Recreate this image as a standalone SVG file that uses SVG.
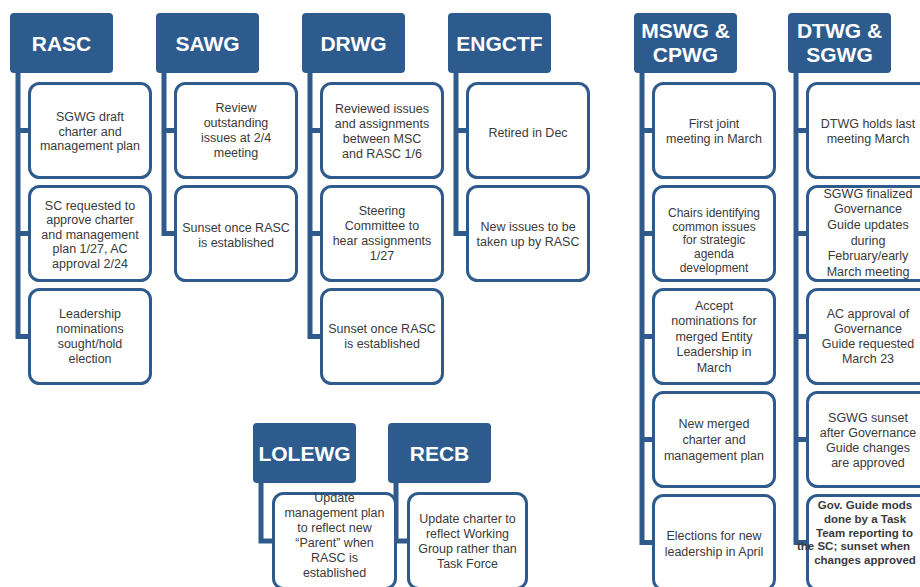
<svg xmlns="http://www.w3.org/2000/svg" width="920" height="587" viewBox="0 0 920 587">
<style>
.hd rect{fill:#2E5B8E;}
.hd text{fill:#fff;font-family:"Liberation Sans",Arial,sans-serif;font-size:21px;font-weight:bold;text-anchor:middle;}
.bx rect{fill:#fff;stroke:#2E5A8C;stroke-width:3;}
.bx text{fill:#3a3a3a;font-family:"Liberation Sans",Arial,sans-serif;font-size:12.5px;text-anchor:middle;}
.bx text.s12{font-size:12px;}
.bx text.sm{font-weight:bold;font-size:11.5px;}
#connectors path{fill:none;stroke:#2E5A8C;stroke-width:5;}
</style>
<rect width="920" height="587" fill="#fff"/>
<g id="connectors">
<path d="M18,73 V336.5 H28 M18,130.5 H28 M18,233.5 H28"/>
<path d="M164,73 V233.5 H174 M164,130.5 H174"/>
<path d="M310,73 V336.5 H320 M310,130.5 H320 M310,233.5 H320"/>
<path d="M456,73 V233.5 H466 M456,130.5 H466"/>
<path d="M642,73 V542.5 H652 M642,130.5 H652 M642,233.5 H652 M642,336.5 H652 M642,439.5 H652"/>
<path d="M796,73 V542.5 H806 M796,130.5 H806 M796,233.5 H806 M796,336.5 H806 M796,439.5 H806"/>
<path d="M261,483 V541 H272"/>
<path d="M396,483 V541 H407"/>
</g>

<g id="h-rasc" class="hd"><rect x="10" y="13" width="103" height="60" rx="4"/><text x="61.5" y="51">RASC</text></g>
<g id="h-sawg" class="hd"><rect x="156" y="13" width="103" height="60" rx="4"/><text x="207.5" y="51">SAWG</text></g>
<g id="h-drwg" class="hd"><rect x="302" y="13" width="103" height="60" rx="4"/><text x="353.5" y="51">DRWG</text></g>
<g id="h-engctf" class="hd"><rect x="448" y="13" width="103" height="60" rx="4"/><text x="499.5" y="51">ENGCTF</text></g>
<g id="h-mswg" class="hd"><rect x="634" y="13" width="103" height="60" rx="4"/><text x="685.5" y="38">MSWG &amp;</text><text x="685.5" y="62">CPWG</text></g>
<g id="h-dtwg" class="hd"><rect x="788" y="13" width="103" height="60" rx="4"/><text x="839.5" y="38">DTWG &amp;</text><text x="839.5" y="62">SGWG</text></g>
<g id="h-lolewg" class="hd"><rect x="253" y="423" width="103" height="60" rx="4"/><text x="304.5" y="461">LOLEWG</text></g>
<g id="h-recb" class="hd"><rect x="388" y="423" width="103" height="60" rx="4"/><text x="439.5" y="461">RECB</text></g>

<!-- RASC -->
<g id="rasc-1" class="bx"><rect x="29.5" y="83.5" width="121" height="94" rx="10"/><text x="90" y="121"><tspan x="90">SGWG draft</tspan><tspan x="90" dy="14.5">charter and</tspan><tspan x="90" dy="14.5">management plan</tspan></text></g>
<g id="rasc-2" class="bx"><rect x="29.5" y="186.5" width="121" height="94" rx="10"/><text x="90" y="209.5"><tspan x="90">SC requested to</tspan><tspan x="90" dy="14.5">approve charter</tspan><tspan x="90" dy="14.5">and management</tspan><tspan x="90" dy="14.5">plan 1/27, AC</tspan><tspan x="90" dy="14.5">approval 2/24</tspan></text></g>
<g id="rasc-3" class="bx"><rect x="29.5" y="289.5" width="121" height="94" rx="10"/><text x="90" y="317.5"><tspan x="90">Leadership</tspan><tspan x="90" dy="15">nominations</tspan><tspan x="90" dy="15">sought/hold</tspan><tspan x="90" dy="15">election</tspan></text></g>

<!-- SAWG -->
<g id="sawg-1" class="bx"><rect x="175.5" y="83.5" width="121" height="94" rx="10"/><text x="236" y="111.5"><tspan x="236">Review</tspan><tspan x="236" dy="15">outstanding</tspan><tspan x="236" dy="15">issues at 2/4</tspan><tspan x="236" dy="15">meeting</tspan></text></g>
<g id="sawg-2" class="bx"><rect x="175.5" y="186.5" width="121" height="94" rx="10"/><text x="236" y="231.5"><tspan x="236">Sunset once RASC</tspan><tspan x="236" dy="15">is established</tspan></text></g>

<!-- DRWG -->
<g id="drwg-1" class="bx"><rect x="321.5" y="83.5" width="121" height="94" rx="10"/><text x="382" y="112.5"><tspan x="382">Reviewed issues</tspan><tspan x="382" dy="15">and assignments</tspan><tspan x="382" dy="15">between MSC</tspan><tspan x="382" dy="15">and RASC 1/6</tspan></text></g>
<g id="drwg-2" class="bx"><rect x="321.5" y="186.5" width="121" height="94" rx="10"/><text x="382" y="214.5"><tspan x="382">Steering</tspan><tspan x="382" dy="15">Committee to</tspan><tspan x="382" dy="15">hear assignments</tspan><tspan x="382" dy="15">1/27</tspan></text></g>
<g id="drwg-3" class="bx"><rect x="321.5" y="289.5" width="121" height="94" rx="10"/><text x="382" y="332.5"><tspan x="382">Sunset once RASC</tspan><tspan x="382" dy="15.5">is established</tspan></text></g>

<!-- ENGCTF -->
<g id="engctf-1" class="bx"><rect x="467.5" y="83.5" width="121" height="94" rx="10"/><text x="528" y="136.5">Retired in Dec</text></g>
<g id="engctf-2" class="bx"><rect x="467.5" y="186.5" width="121" height="94" rx="10"/><text x="528" y="230.5"><tspan x="528">New issues to be</tspan><tspan x="528" dy="15">taken up by RASC</tspan></text></g>

<!-- MSWG & CPWG -->
<g id="mswg-1" class="bx"><rect x="653.5" y="83.5" width="121" height="94" rx="10"/><text x="714" y="127.5"><tspan x="714">First joint</tspan><tspan x="714" dy="15">meeting in March</tspan></text></g>
<g id="mswg-2" class="bx"><rect x="653.5" y="186.5" width="121" height="94" rx="10"/><text class="s12" x="714" y="217"><tspan x="714">Chairs identifying</tspan><tspan x="714" dy="13.7">common issues</tspan><tspan x="714" dy="13.7">for strategic</tspan><tspan x="714" dy="13.7">agenda</tspan><tspan x="714" dy="13.7">development</tspan></text></g>
<g id="mswg-3" class="bx"><rect x="653.5" y="289.5" width="121" height="94" rx="10"/><text x="714" y="309.5"><tspan x="714">Accept</tspan><tspan x="714" dy="15.5">nominations for</tspan><tspan x="714" dy="15.5">merged Entity</tspan><tspan x="714" dy="15.5">Leadership in</tspan><tspan x="714" dy="15.5">March</tspan></text></g>
<g id="mswg-4" class="bx"><rect x="653.5" y="392.5" width="121" height="94" rx="10"/><text x="714" y="427.5"><tspan x="714">New merged</tspan><tspan x="714" dy="16">charter and</tspan><tspan x="714" dy="16">management plan</tspan></text></g>
<g id="mswg-5" class="bx"><rect x="653.5" y="495.5" width="121" height="94" rx="10"/><text x="714" y="539.5"><tspan x="714">Elections for new</tspan><tspan x="714" dy="16">leadership in April</tspan></text></g>

<!-- DTWG & SGWG -->
<g id="dtwg-1" class="bx"><rect x="807.5" y="83.5" width="121" height="94" rx="10"/><text x="868" y="127.5"><tspan x="868">DTWG holds last</tspan><tspan x="868" dy="15">meeting March</tspan></text></g>
<g id="dtwg-2" class="bx"><rect x="807.5" y="186.5" width="121" height="94" rx="10"/><text x="868" y="197.5"><tspan x="868">SGWG finalized</tspan><tspan x="868" dy="15.7">Governance</tspan><tspan x="868" dy="15.7">Guide updates</tspan><tspan x="868" dy="15.7">during</tspan><tspan x="868" dy="15.7">February/early</tspan><tspan x="868" dy="15.7">March meeting</tspan></text></g>
<g id="dtwg-3" class="bx"><rect x="807.5" y="289.5" width="121" height="94" rx="10"/><text x="868" y="317.5"><tspan x="868">AC approval of</tspan><tspan x="868" dy="15.3">Governance</tspan><tspan x="868" dy="15.3">Guide requested</tspan><tspan x="868" dy="15.3">March 23</tspan></text></g>
<g id="dtwg-4" class="bx"><rect x="807.5" y="392.5" width="121" height="94" rx="10"/><text x="868" y="421.5"><tspan x="868">SGWG sunset</tspan><tspan x="868" dy="15.3">after Governance</tspan><tspan x="868" dy="15.3">Guide changes</tspan><tspan x="868" dy="15.3">are approved</tspan></text></g>
<g id="dtwg-5" class="bx"><rect x="807.5" y="495.5" width="121" height="94" rx="10"/><text class="sm" x="865" y="509"><tspan x="865">Gov. Guide mods</tspan><tspan x="865" dy="13.8">done by a Task</tspan><tspan x="816" dy="13.8" text-anchor="start">Team reporting to</tspan><tspan x="797" dy="13.8" text-anchor="start">the SC; sunset when</tspan><tspan x="865" dy="13.8">changes approved</tspan></text></g>

<!-- LOLEWG -->
<g id="lolewg-1" class="bx"><rect x="273.5" y="493.5" width="122" height="95" rx="10"/><text x="334.5" y="501.5"><tspan x="334.5">Update</tspan><tspan x="334.5" dy="15">management plan</tspan><tspan x="334.5" dy="15">to reflect new</tspan><tspan x="334.5" dy="15">“Parent” when</tspan><tspan x="334.5" dy="15">RASC is</tspan><tspan x="334.5" dy="15">established</tspan></text></g>
<!-- RECB -->
<g id="recb-1" class="bx"><rect x="408.5" y="493.5" width="118" height="95" rx="10"/><text x="467.5" y="522.5"><tspan x="467.5">Update charter to</tspan><tspan x="467.5" dy="15">reflect Working</tspan><tspan x="467.5" dy="15">Group rather than</tspan><tspan x="467.5" dy="15">Task Force</tspan></text></g>
</svg>
